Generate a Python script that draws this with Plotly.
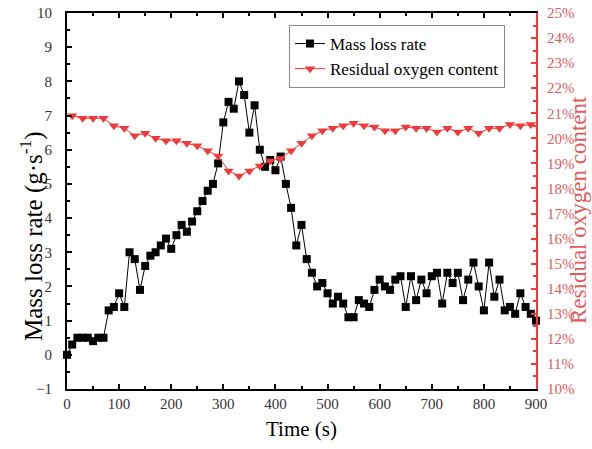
import plotly.graph_objects as go

# Mass loss rate (g/s), every 10 s
time_mass = list(range(0, 901, 10))
mass_loss_rate = [
    0.0, 0.3, 0.5, 0.5, 0.5, 0.4, 0.5, 0.5, 1.3, 1.4,
    1.8, 1.4, 3.0, 2.8, 1.9, 2.6, 2.9, 3.0, 3.2, 3.4,
    3.1, 3.5, 3.8, 3.6, 3.9, 4.2, 4.5, 4.8, 5.0, 5.6,
    6.8, 7.4, 7.2, 8.0, 7.6, 6.5, 7.3, 6.0, 5.5, 5.7,
    5.4, 5.8, 5.0, 4.3, 3.2, 3.8, 2.8, 2.4, 2.0, 2.1,
    1.8, 1.5, 1.7, 1.5, 1.1, 1.1, 1.6, 1.5, 1.4, 1.9,
    2.2, 2.0, 1.9, 2.2, 2.3, 1.4, 2.3, 1.6, 2.2, 1.8,
    2.3, 2.4, 1.5, 2.4, 2.1, 2.4, 1.6, 2.2, 2.7, 2.0,
    1.3, 2.7, 1.7, 2.2, 1.3, 1.4, 1.2, 1.8, 1.4, 1.2,
    1.0,
]

# Residual oxygen content (%), every 20 s starting at 10 s
time_oxygen = list(range(10, 891, 20))
oxygen_content = [
    20.9, 20.8, 20.8, 20.8, 20.5, 20.4, 20.1, 20.2, 20.0, 19.9,
    19.9, 19.8, 19.7, 19.5, 19.3, 18.7, 18.5, 18.7, 18.9, 19.1,
    19.2, 19.5, 19.8, 20.1, 20.3, 20.4, 20.5, 20.6, 20.5, 20.45,
    20.3, 20.3, 20.45, 20.4, 20.4, 20.25, 20.4, 20.25, 20.4, 20.2,
    20.4, 20.4, 20.55, 20.5, 20.55,
]

FONT = "Liberation Serif"
RED = "#f03a3a"
RED_TEXT = "#e25a5a"

W, H = 592, 449
ML, MR, MT, MB = 67, 56, 13, 60
PW, PH = W - ML - MR, H - MT - MB

fig = go.Figure()
fig.add_trace(go.Scatter(
    x=time_mass, y=mass_loss_rate, name="Mass loss rate",
    mode="lines+markers",
    line=dict(color="black", width=1),
    marker=dict(symbol="square", size=8, color="black"),
    cliponaxis=False,
))
fig.add_trace(go.Scatter(
    x=time_oxygen, y=oxygen_content, name="Residual oxygen content",
    mode="lines+markers", yaxis="y2",
    line=dict(color=RED, width=1),
    marker=dict(symbol="triangle-down", size=9, color=RED),
    cliponaxis=False,
))

fig.update_layout(
    width=W, height=H,
    margin=dict(l=ML, r=MR, t=MT, b=MB, autoexpand=False),
    paper_bgcolor="white", plot_bgcolor="white",
    font=dict(family=FONT, color="black"),
    showlegend=True,
    legend=dict(
        x=(289 - ML) / PW, y=(H - MB - 25) / PH, xanchor="left", yanchor="top",
        bgcolor="white", bordercolor="#888888", borderwidth=1,
        font=dict(family=FONT, size=17, color="black"),
        tracegroupgap=0,
    ),
    xaxis=dict(
        range=[0, 900], dtick=100, tick0=0, automargin=False,
        showgrid=False, zeroline=False,
        showline=True, linecolor="black", linewidth=2, mirror="ticks",
        ticks="inside", ticklen=5, tickwidth=1.5, tickcolor="black",
        minor=dict(dtick=50, ticks="inside", ticklen=3, tickwidth=1.5, tickcolor="black"),
        tickfont=dict(family=FONT, size=15, color="#333333"),
        title=dict(text="Time (s)", font=dict(family=FONT, size=21, color="black"), standoff=10),
    ),
    yaxis=dict(
        range=[-1, 10], dtick=1, tick0=0, automargin=False,
        showgrid=False, zeroline=False,
        showline=True, linecolor="black", linewidth=2,
        ticks="inside", ticklen=5, tickwidth=1.5, tickcolor="black",
        minor=dict(dtick=0.5, ticks="inside", ticklen=3, tickwidth=1.5, tickcolor="black"),
        tickfont=dict(family=FONT, size=15, color="#333333"),
        ticklabelstandoff=10,
    ),
    yaxis2=dict(
        overlaying="y", side="right", automargin=False,
        range=[10, 25], dtick=1, tick0=10, ticksuffix="%",
        showgrid=False, zeroline=False,
        showline=True, linecolor=RED, linewidth=2,
        ticks="inside", ticklen=5, tickwidth=1.5, tickcolor=RED,
        minor=dict(dtick=0.5, ticks="inside", ticklen=3, tickwidth=1.5, tickcolor=RED),
        tickfont=dict(family=FONT, size=15, color=RED_TEXT),
        ticklabelstandoff=6,
    ),
)

# Y-axis titles placed as rotated annotations (positions as in the reference)
fig.add_annotation(
    text="Mass loss rate (g·s<sup>-1</sup>)", textangle=-90,
    xref="paper", yref="paper",
    x=(31 - ML) / PW, y=(H - MB - 236) / PH,
    xanchor="center", yanchor="middle", showarrow=False,
    font=dict(family=FONT, size=25, color="black"),
)
fig.add_annotation(
    text="Residual oxygen content", textangle=-90,
    xref="paper", yref="paper",
    x=(578 - ML) / PW, y=(H - MB - 210) / PH,
    xanchor="center", yanchor="middle", showarrow=False,
    font=dict(family=FONT, size=23, color=RED_TEXT),
)

fig.write_html("out.html")
